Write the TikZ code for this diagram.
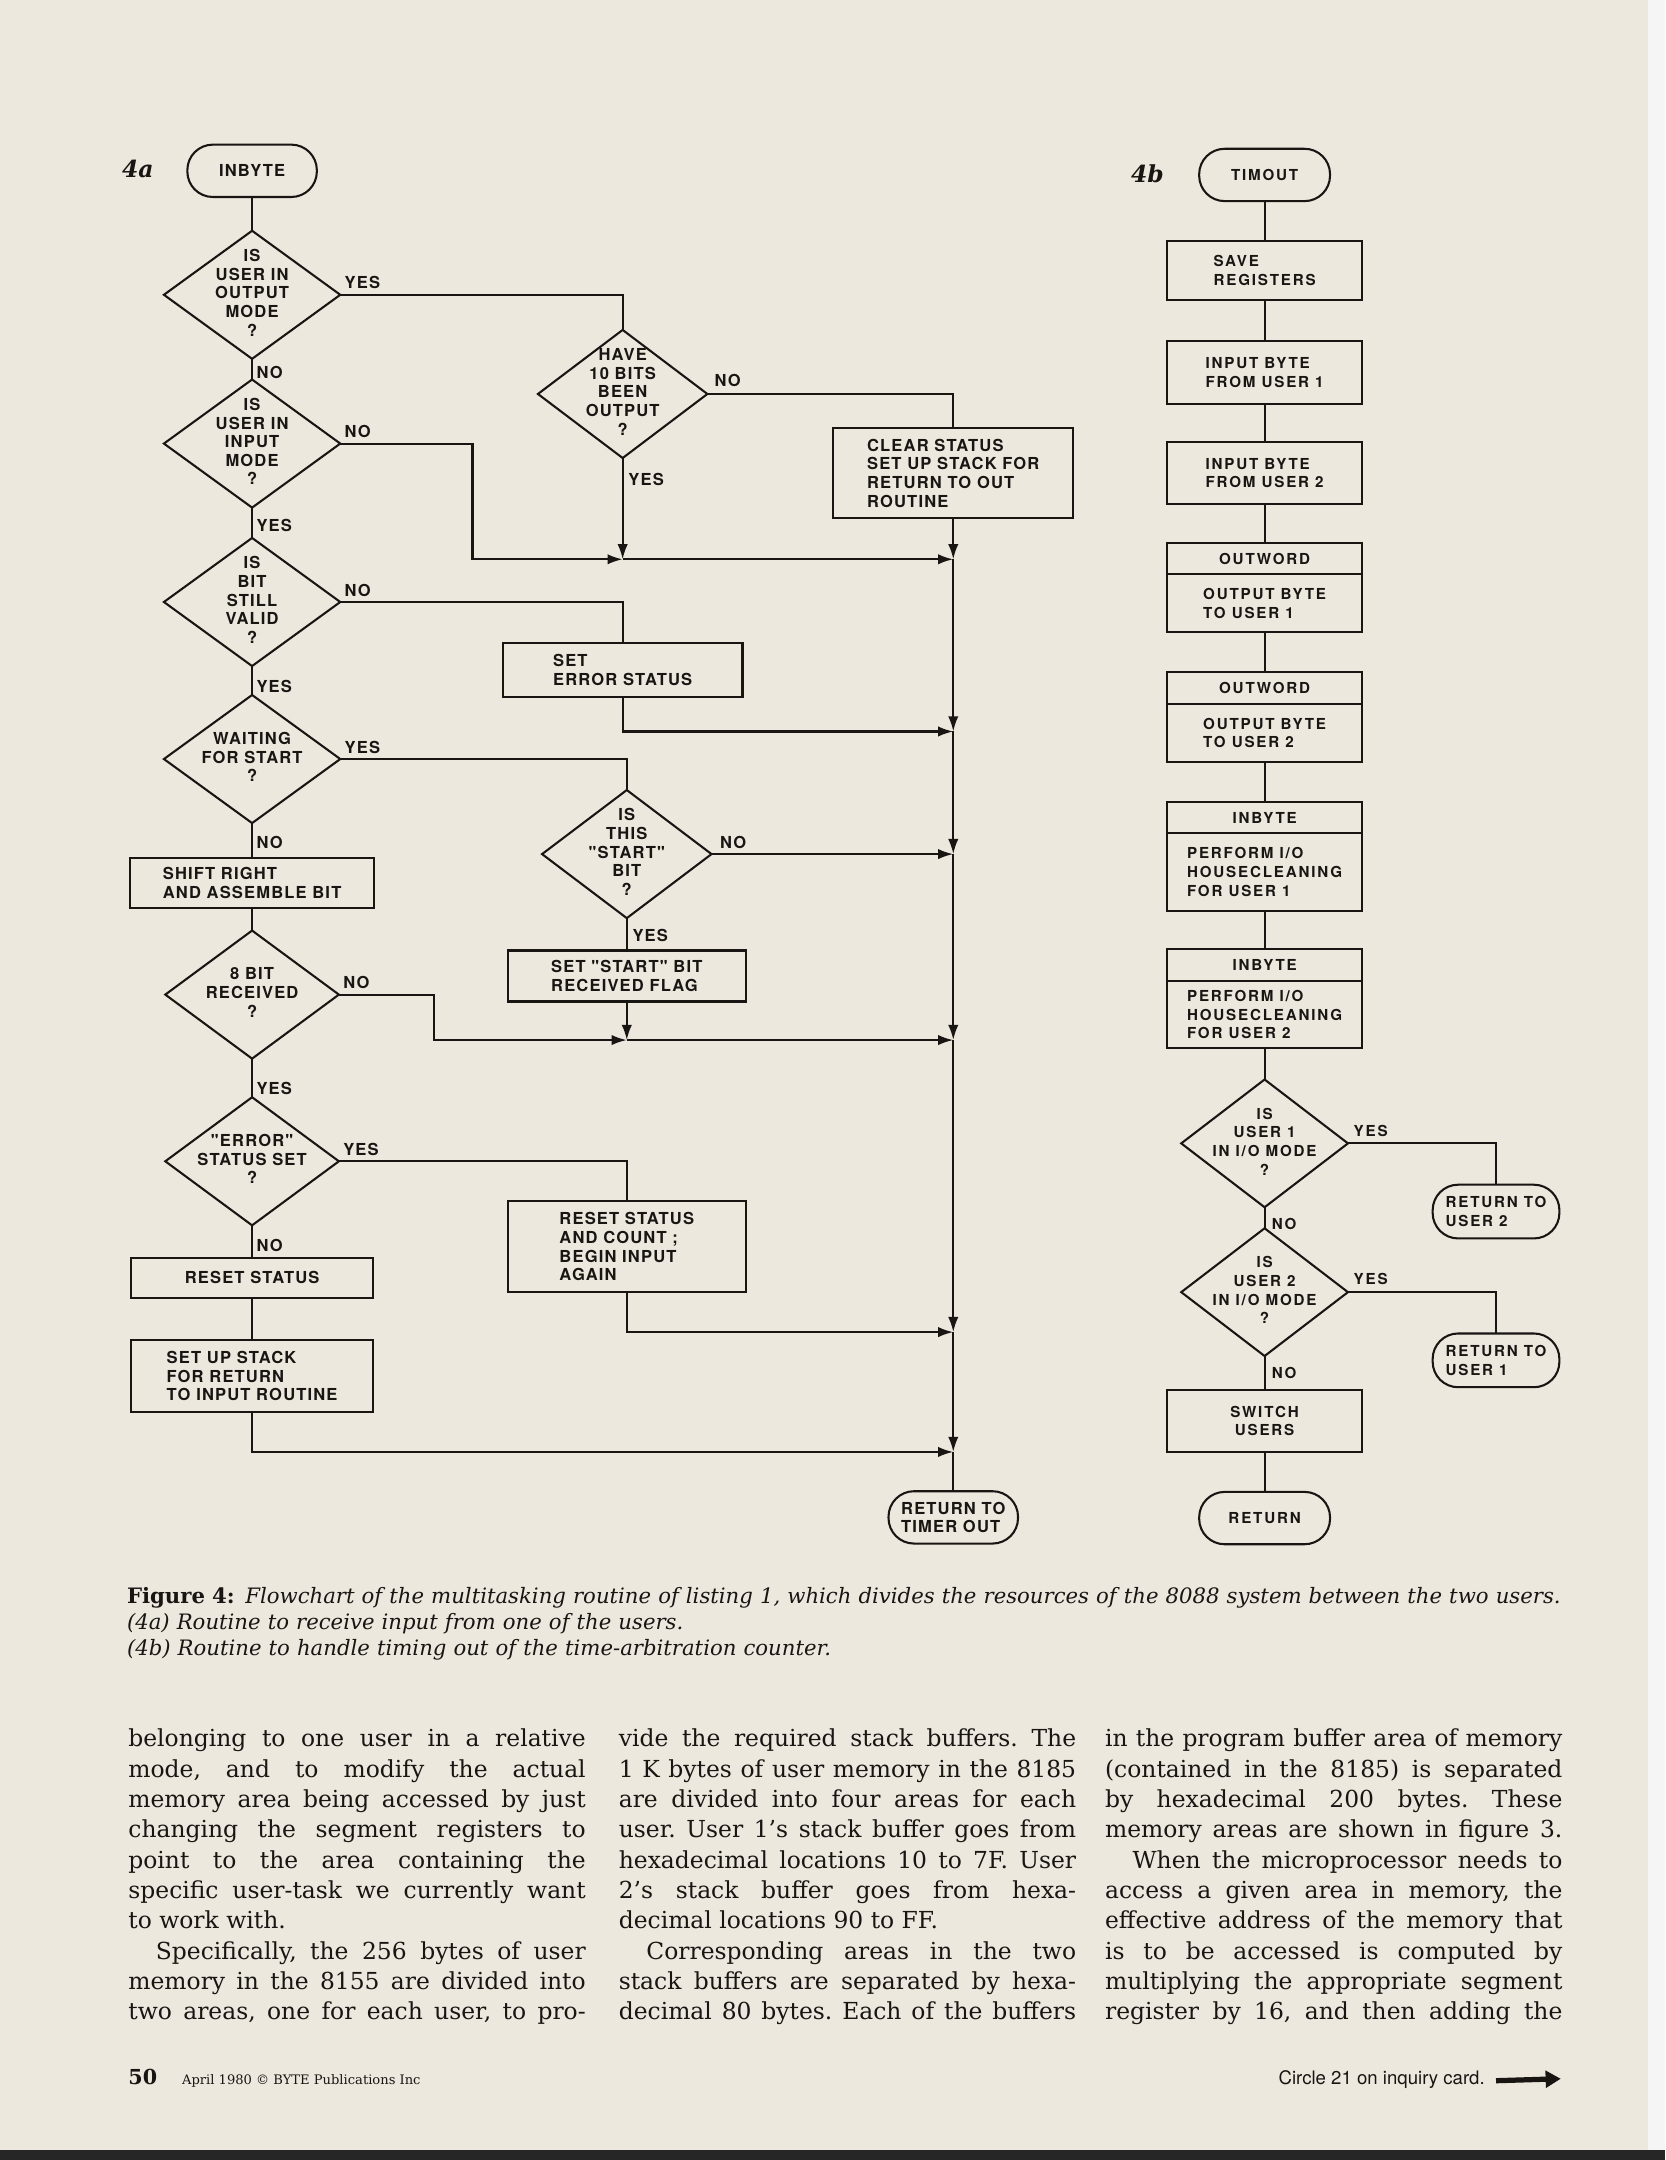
\documentclass[tikz,border=0pt]{standalone}
\usepackage{fontspec}
\setmainfont{DejaVu Serif}
\newfontfamily\chartfont{TeX Gyre Heros}[LetterSpace=7]
\newfontfamily\chartwide{TeX Gyre Heros}[LetterSpace=12]
\newfontfamily\footfont{TeX Gyre Heros}
\usetikzlibrary{arrows.meta,shapes.geometric,positioning}

\definecolor{paper}{RGB}{236,232,221}
\definecolor{ink}{RGB}{24,21,19}

\newlength\colw
\setlength\colw{332pt}
\newcommand{\qtext}[1]{\parbox[c][0pt][c]{90pt}{\centering #1}}
\newcommand{\jline}[1]{\noindent\makebox[\colw][s]{\spaceskip=.32em plus 1em minus .06em\xspaceskip=0pt\relax #1}\par}
\newcommand{\fline}[1]{\noindent #1\par}

\tikzset{
  wire/.style={draw=ink, line width=1.5pt},
  arr/.style={wire, -{Latex[length=11pt,width=7.5pt]}},
  atext/.style={text=ink, font=\chartfont\bfseries\fontsize{12}{13.5}\selectfont},
  btext/.style={text=ink, font=\chartwide\bfseries\fontsize{11}{13.5}\selectfont},
  decision/.style={diamond, wire, inner sep=0pt, outer sep=0pt, minimum width=128pt, minimum height=78pt, atext},
  proc/.style={rectangle, wire, inner sep=0pt, outer sep=0pt, align=left, atext},
  term/.style={rectangle, wire, rounded corners=18.5pt, inner sep=0pt, outer sep=0pt, minimum width=94pt, minimum height=38pt, align=left, atext},
  bproc/.style={proc, btext, minimum width=142pt},
  lbl/.style={inner sep=0pt, atext},
  blbl/.style={inner sep=0pt, btext},
  tag/.style={text=ink, font=\bfseries\itshape\fontsize{17}{17}\selectfont},
  column/.style={anchor=north west, inner sep=0pt, text width=\colw, align=justify, text=ink, font=\fontsize{17}{22}\selectfont\frenchspacing},
}

\begin{document}
\begin{tikzpicture}[x=1pt,y=-1pt]
  \useasboundingbox (0,0) rectangle (1209,1568);
  \fill[paper] (0,0) rectangle (1196,1561);
  \fill[black!4] (1196,0) rectangle (1209,1561);
  \fill[black!85] (0,1561) rectangle (1209,1568);

  % 4a: receive input
  \node[tag] (tag4a) at (100,123) {4a};
  \node[term] (inb) at (183,124) {INBYTE};
  \node[decision] (d1) at (183,214) {\qtext{IS\\USER IN\\OUTPUT\\MODE\\?}};
  \node[decision] (d2) at (183,322) {\qtext{IS\\USER IN\\INPUT\\MODE\\?}};
  \node[decision] (d3) at (183,437) {\qtext{IS\\BIT\\STILL\\VALID\\?}};
  \node[decision] (d4) at (183,551) {\qtext{WAITING\\FOR START\\?}};
  \node[proc, minimum width=177pt, minimum height=36pt] (shf) at (183,641) {SHIFT RIGHT\\AND ASSEMBLE BIT};
  \node[decision, minimum width=126pt, minimum height=76pt] (d5) at (183,722) {\qtext{8 BIT\\RECEIVED\\?}};
  \node[decision, minimum width=126pt, minimum height=76pt] (d6) at (183,843) {\qtext{"ERROR"\\STATUS SET\\?}};
  \node[proc, minimum width=176pt, minimum height=29pt] (rst) at (183,927.5) {RESET STATUS};
  \node[proc, minimum width=176pt, minimum height=52pt] (stk) at (183,999) {SET UP STACK\\FOR RETURN\\TO INPUT ROUTINE};

  \node[decision, minimum width=123pt, minimum height=72pt] (dh) at (452,286) {\qtext{HAVE\\10 BITS\\BEEN\\OUTPUT\\?}};
  \node[proc, minimum width=174pt, minimum height=65pt] (clr) at (692,343.5) {CLEAR STATUS\\SET UP STACK FOR\\RETURN TO OUT\\ROUTINE};
  \node[proc, minimum width=174pt, minimum height=39pt] (err) at (452,486.5) {SET\\ERROR STATUS};
  \node[decision, minimum width=123pt, minimum height=74pt] (ds) at (455,620) {\qtext{IS\\THIS\\"START"\\BIT\\?}};
  \node[proc, minimum width=173pt, minimum height=37pt] (sst) at (455,708.5) {SET "START" BIT\\RECEIVED FLAG};
  \node[proc, minimum width=173pt, minimum height=66pt] (rsc) at (455,905) {RESET STATUS\\AND COUNT ;\\BEGIN INPUT\\AGAIN};
  \node[term] (rto) at (692,1101.5) {RETURN TO\\TIMER OUT};

  \coordinate (c2) at (343,406);
  \coordinate (k1) at (452,406);
  \coordinate (c5) at (315,755);
  \coordinate (k2) at (455,755);
  \coordinate (j1) at (692,406);
  \coordinate (j2) at (692,531);
  \coordinate (j3) at (692,620);
  \coordinate (j4) at (692,755);
  \coordinate (j5) at (692,967);
  \coordinate (j6) at (692,1054);

  \draw[wire] (inb) -- (d1);
  \draw[wire] (d1) -- (d2);
  \draw[wire] (d2) -- (d3);
  \draw[wire] (d3) -- (d4);
  \draw[wire] (d4) -- (shf);
  \draw[wire] (shf) -- (d5);
  \draw[wire] (d5) -- (d6);
  \draw[wire] (d6) -- (rst);
  \draw[wire] (rst) -- (stk);
  \draw[wire] (d1.east) -| (dh.north);
  \draw[wire] (dh.east) -| (clr.north);
  \draw[wire] (d3.east) -| (err.north);
  \draw[wire] (d4.east) -| (ds.north);
  \draw[wire] (ds) -- (sst);
  \draw[wire] (d6.east) -| (rsc.north);
  \draw[arr] (d2.east) -| (c2) -- (k1);
  \draw[arr] (dh.south) -- (k1);
  \draw[arr] (k1) -- (j1);
  \draw[arr] (clr.south) -- (j1);
  \draw[arr] (err.south) |- (j2);
  \draw[arr] (ds.east) -- (j3);
  \draw[arr] (d5.east) -| (c5) -- (k2);
  \draw[arr] (sst.south) -- (k2);
  \draw[arr] (k2) -- (j4);
  \draw[arr] (rsc.south) |- (j5);
  \draw[arr] (stk.south) |- (j6);
  \draw[arr] (j1) -- (j2);
  \draw[arr] (j2) -- (j3);
  \draw[arr] (j3) -- (j4);
  \draw[arr] (j4) -- (j5);
  \draw[arr] (j5) -- (j6);
  \draw[wire] (j6) -- (rto);

  \node[lbl, above right=4pt and 3pt of d1.east] (y1) {YES};
  \node[lbl, below right=5pt and 3pt of d1.south] (n1) {NO};
  \node[lbl, above right=4pt and 3pt of d2.east] (n2) {NO};
  \node[lbl, below right=8pt and 3pt of d2.south] (y2) {YES};
  \node[lbl, above right=4pt and 3pt of d3.east] (n3) {NO};
  \node[lbl, below right=10pt and 3pt of d3.south] (y3) {YES};
  \node[lbl, above right=4pt and 3pt of d4.east] (y4) {YES};
  \node[lbl, below right=9pt and 3pt of d4.south] (n4) {NO};
  \node[lbl, above right=4pt and 3pt of d5.east] (n5) {NO};
  \node[lbl, below right=17pt and 3pt of d5.south] (y5) {YES};
  \node[lbl, above right=4pt and 3pt of d6.east] (y6) {YES};
  \node[lbl, below right=10pt and 3pt of d6.south] (n6) {NO};
  \node[lbl, above right=5pt and 5pt of dh.east] (nh) {NO};
  \node[lbl, below right=11pt and 4pt of dh.south] (yh) {YES};
  \node[lbl, above right=4pt and 6pt of ds.east] (ns) {NO};
  \node[lbl, below right=8pt and 4pt of ds.south] (ys) {YES};

  % 4b: time-out
  \node[tag] (tag4b) at (833,126) {4b};
  \node[term, btext, minimum width=95pt] (tim) at (918,127) {TIMOUT};
  \node[bproc, minimum height=43pt] (save) at (918,196.5) {SAVE\\REGISTERS};
  \node[bproc, minimum height=46pt] (in1) at (918,270.5) {INPUT BYTE\\FROM USER 1};
  \node[bproc, minimum height=45pt] (in2) at (918,343.5) {INPUT BYTE\\FROM USER 2};
  \node[bproc, minimum height=23pt] (o1h) at (918,405.5) {OUTWORD};
  \node[bproc, minimum height=42pt, below=0pt of o1h] (o1b) {OUTPUT BYTE\\TO USER 1};
  \node[bproc, minimum height=23pt] (o2h) at (918,499.5) {OUTWORD};
  \node[bproc, minimum height=42pt, below=0pt of o2h] (o2b) {OUTPUT BYTE\\TO USER 2};
  \node[bproc, minimum height=23pt] (h1h) at (918,593.5) {INBYTE};
  \node[bproc, minimum height=56pt, below=0pt of h1h] (h1b) {PERFORM I/O\\HOUSECLEANING\\FOR USER 1};
  \node[bproc, minimum height=23pt] (h2h) at (918,700.5) {INBYTE};
  \node[bproc, minimum height=49pt, below=0pt of h2h] (h2b) {PERFORM I/O\\HOUSECLEANING\\FOR USER 2};
  \node[decision, btext, minimum width=121pt, minimum height=74pt] (q1) at (918,830) {\qtext{IS\\USER 1\\IN I/O MODE\\?}};
  \node[decision, btext, minimum width=121pt, minimum height=76pt] (q2) at (918,938) {\qtext{IS\\USER 2\\IN I/O MODE\\?}};
  \node[bproc, minimum height=45pt, align=center] (sw) at (918,1031.5) {SWITCH\\USERS};
  \node[term, btext, minimum width=95pt] (ret) at (918,1102) {RETURN};
  \node[term, btext, minimum width=92pt, minimum height=39pt] (ru2) at (1086,879.5) {RETURN TO\\USER 2};
  \node[term, btext, minimum width=92pt, minimum height=39pt] (ru1) at (1086,987.5) {RETURN TO\\USER 1};

  \draw[wire] (tim) -- (save);
  \draw[wire] (save) -- (in1);
  \draw[wire] (in1) -- (in2);
  \draw[wire] (in2) -- (o1h);
  \draw[wire] (o1b) -- (o2h);
  \draw[wire] (o2b) -- (h1h);
  \draw[wire] (h1b) -- (h2h);
  \draw[wire] (h2b) -- (q1);
  \draw[wire] (q1) -- (q2);
  \draw[wire] (q2) -- (sw);
  \draw[wire] (sw) -- (ret);
  \draw[wire] (q1.east) -| (ru2.north);
  \draw[wire] (q2.east) -| (ru1.north);

  \node[blbl, above right=5pt and 4pt of q1.east] (yq1) {YES};
  \node[blbl, below right=8pt and 5pt of q1.south] (nq1) {NO};
  \node[blbl, above right=5pt and 4pt of q2.east] (yq2) {YES};
  \node[blbl, below right=8pt and 5pt of q2.south] (nq2) {NO};

  % caption and running text
  \node[anchor=north west, inner sep=0pt, text width=1100pt, text=ink, font=\fontsize{15.4}{19}\selectfont] (cap) at (92,1152) {%
    \fline{\textbf{Figure 4:} \textit{Flowchart of the multitasking routine of listing 1, which divides the resources of the 8088 system between the two users.}}
    \fline{\textit{(4a) Routine to receive input from one of the users.}}
    \fline{\textit{(4b) Routine to handle timing out of the time-arbitration counter.}}};

  \node[column] (col1) at (93,1255) {%
    \jline{belonging to one user in a relative}
    \jline{mode, and to modify the actual}
    \jline{memory area being accessed by just}
    \jline{changing the segment registers to}
    \jline{point to the area containing the}
    \jline{specific user-task we currently want}
    \fline{to work with.}
    \jline{\hspace*{20pt}Specifically, the 256 bytes of user}
    \jline{memory in the 8155 are divided into}
    \jline{two areas, one for each user, to pro-}};
  \node[column] (col2) at (449,1255) {%
    \jline{vide the required stack buffers. The}
    \jline{1 K bytes of user memory in the 8185}
    \jline{are divided into four areas for each}
    \jline{user. User 1’s stack buffer goes from}
    \jline{hexadecimal locations 10 to 7F. User}
    \jline{2’s stack buffer goes from hexa-}
    \fline{decimal locations 90 to FF.}
    \jline{\hspace*{20pt}Corresponding areas in the two}
    \jline{stack buffers are separated by hexa-}
    \jline{decimal 80 bytes. Each of the buffers}};
  \node[column] (col3) at (802,1255) {%
    \jline{in the program buffer area of memory}
    \jline{(contained in the 8185) is separated}
    \jline{by hexadecimal 200 bytes. These}
    \jline{memory areas are shown in figure 3.}
    \jline{\hspace*{20pt}When the microprocessor needs to}
    \jline{access a given area in memory, the}
    \jline{effective address of the memory that}
    \jline{is to be accessed is computed by}
    \jline{multiplying the appropriate segment}
    \jline{register by 16, and then adding the}};

  % footer
  \node[anchor=base west, inner sep=0pt, text=ink, font=\bfseries\fontsize{15}{15}\selectfont] (pgno) at (93,1513) {50};
  \node[anchor=base west, inner sep=0pt, text=ink, font=\fontsize{9.5}{10}\selectfont] (imprint) at (132,1513) {April 1980 \textcopyright{} BYTE Publications Inc};
  \node[anchor=base east, inner sep=0pt, text=ink, font=\footfont\fontsize{13.5}{14}\selectfont] (circ) at (1078,1513) {Circle 21 on inquiry card.};
  \coordinate (tip) at (1133,1509);
  \draw[ink, line width=3.8pt, -{Triangle[length=11pt,width=12pt]}] ([xshift=8pt,yshift=-1pt]circ.east) -- (tip);
\end{tikzpicture}
\end{document}
